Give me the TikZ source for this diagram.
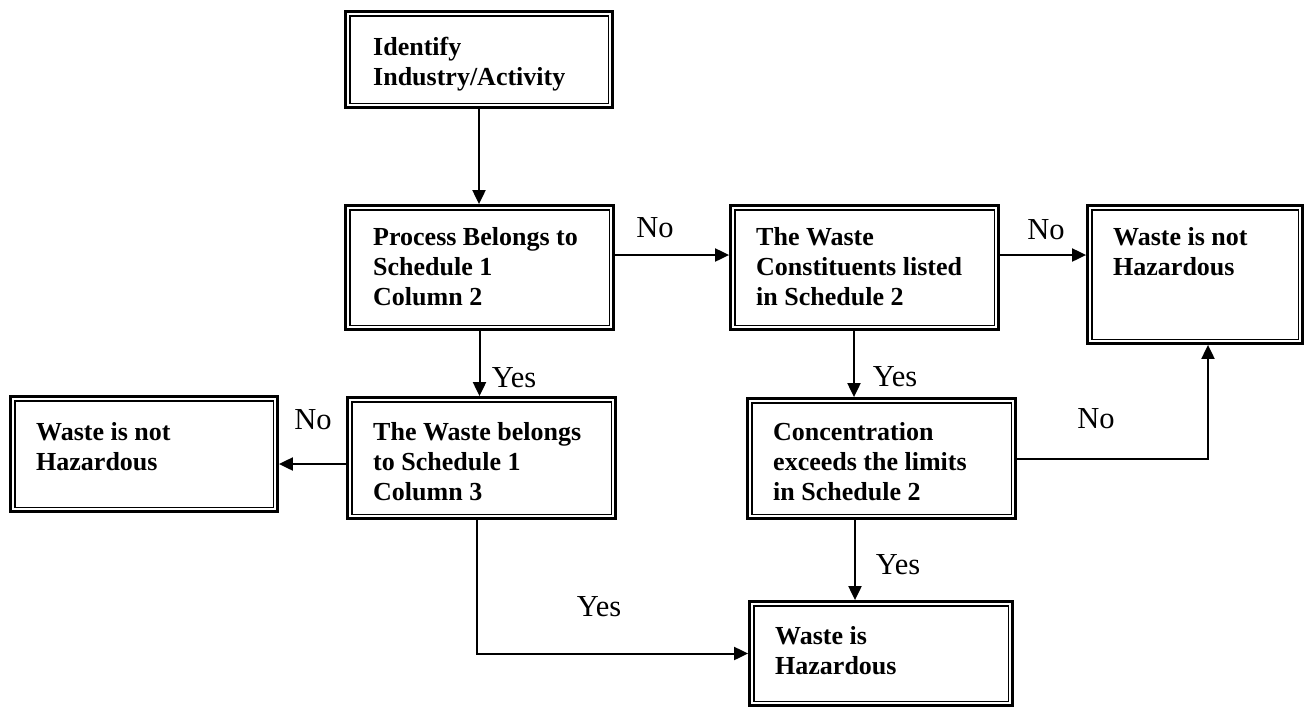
\documentclass[tikz,border=0pt]{standalone}
\usepackage{fontspec}
\setmainfont{Liberation Serif}
\usetikzlibrary{arrows.meta}
\tikzset{
  box/.style={draw, line width=2.8pt, inner sep=0pt},
  innerline/.style={line width=1.4pt},
  txt/.style={anchor=north west, inner sep=0pt, align=left, font=\fontsize{26}{30}\selectfont\bfseries},
  lab/.style={inner sep=0pt, font=\fontsize{30.5}{33}\selectfont},
  arr/.style={line width=2pt, -{Triangle[length=14pt,width=13pt]}}
}
\begin{document}
\begin{tikzpicture}[x=1pt,y=-1pt]
\useasboundingbox (0,0) rectangle (1307,710);
% boxes
\node[box, minimum width=267pt, minimum height=96pt]  (b1) at (479,59.5) {};
\node[box, minimum width=268pt, minimum height=124pt] (b2) at (479.5,267.5) {};
\node[box, minimum width=268pt, minimum height=124pt] (b3) at (864.5,267.5) {};
\node[box, minimum width=215pt, minimum height=138pt] (b4) at (1195,274.5) {};
\node[box, minimum width=267pt, minimum height=115pt] (b5) at (144,454) {};
\node[box, minimum width=268pt, minimum height=121pt] (b6) at (481.5,458) {};
\node[box, minimum width=268pt, minimum height=120pt] (b7) at (881.5,458.5) {};
\node[box, minimum width=263pt, minimum height=104pt] (b8) at (881,653.5) {};
\foreach \n in {b1,b2,b3,b4,b5,b6,b7,b8}
  \draw[innerline] ([xshift=5.7pt,yshift=-5.7pt]\n.north west) rectangle ([xshift=-5.7pt,yshift=5.7pt]\n.south east);
% texts
\node[txt] (t1) at (373,37.3) {Identify\\Industry/Activity};
\node[txt] (t2) at (373,227.3) {Process Belongs to\\Schedule 1\\Column 2};
\node[txt] (t3) at (756,227.3) {The Waste\\Constituents listed\\in Schedule 2};
\node[txt] (t4) at (1113,227.3) {Waste is not\\Hazardous};
\node[txt] (t5) at (36,422.3) {Waste is not\\Hazardous};
\node[txt] (t6) at (373,422.3) {The Waste belongs\\to Schedule 1\\Column 3};
\node[txt] (t7) at (773,422.3) {Concentration\\exceeds the limits\\in Schedule 2};
\node[txt] (t8) at (775,626.3) {Waste is\\Hazardous};
% connectors
\draw[arr] (b1.south) -- (b1.south |- b2.north);
\path ([yshift=12.5pt]b2.east) coordinate (c2e);
\draw[arr] (c2e) -- (c2e -| b3.west);
\path ([yshift=12.5pt]b3.east) coordinate (c3e);
\draw[arr] (c3e) -- (c3e -| b4.west);
\draw[arr] (b2.south) -- (b2.south |- b6.north);
\path ([yshift=-6pt]b6.west) coordinate (c6w);
\draw[arr] (c6w) -- (c6w -| b5.east);
\path ([xshift=-10.5pt]b3.south) coordinate (c3s);
\draw[arr] (c3s) -- (c3s |- b7.north);
\path ([xshift=-26.5pt]b7.south) coordinate (c7s);
\draw[arr] (c7s) -- (c7s |- b8.north);
\path ([xshift=13pt]b4.south) coordinate (c4s);
\draw[arr] (b7.east) -| (c4s);
\path ([xshift=-4.5pt]b6.south) coordinate (c6s);
\draw[arr] (c6s) |- (b8.west);
% labels
\node[lab] (l1) at (655,228) {No};
\node[lab] (l2) at (1046,230) {No};
\node[lab] (l3) at (514,378) {Yes};
\node[lab] (l4) at (313,420) {No};
\node[lab] (l5) at (895,377) {Yes};
\node[lab] (l6) at (1096,419) {No};
\node[lab] (l7) at (898,565) {Yes};
\node[lab] (l8) at (599,607) {Yes};
\end{tikzpicture}
\end{document}
